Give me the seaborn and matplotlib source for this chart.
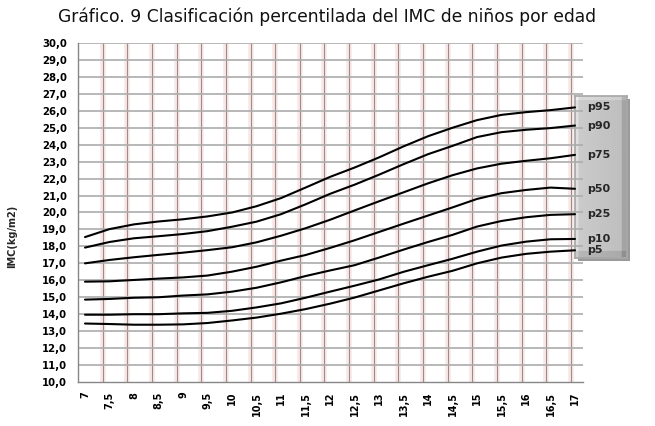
import numpy as np
import pandas as pd
import matplotlib.pyplot as plt
import seaborn as sns
from matplotlib.patches import Rectangle

# Edad (años) y percentiles del IMC (kg/m2)
edad = [7, 7.5, 8, 8.5, 9, 9.5, 10, 10.5, 11, 11.5, 12,
        12.5, 13, 13.5, 14, 14.5, 15, 15.5, 16, 16.5, 17]
p5 = [13.45, 13.42, 13.38, 13.38, 13.40, 13.48, 13.63, 13.80, 14.03, 14.30, 14.62,
      14.98, 15.40, 15.82, 16.21, 16.56, 17.00, 17.34, 17.56, 17.69, 17.77]
p10 = [13.97, 13.97, 14.00, 14.00, 14.05, 14.08, 14.20, 14.40, 14.64, 14.97, 15.33,
       15.68, 16.05, 16.50, 16.89, 17.27, 17.69, 18.05, 18.28, 18.42, 18.44]
p25 = [14.86, 14.90, 14.97, 15.00, 15.10, 15.17, 15.33, 15.56, 15.88, 16.25, 16.58,
       16.89, 17.34, 17.81, 18.26, 18.68, 19.17, 19.50, 19.72, 19.86, 19.90]
p50 = [15.92, 15.94, 16.02, 16.10, 16.17, 16.28, 16.51, 16.80, 17.16, 17.49, 17.91,
       18.36, 18.85, 19.34, 19.82, 20.30, 20.80, 21.14, 21.33, 21.47, 21.40]
p75 = [17.00, 17.20, 17.36, 17.50, 17.63, 17.78, 17.95, 18.24, 18.63, 19.07, 19.57,
       20.12, 20.66, 21.19, 21.72, 22.20, 22.60, 22.88, 23.05, 23.20, 23.40]
p90 = [17.93, 18.26, 18.48, 18.60, 18.73, 18.90, 19.16, 19.46, 19.90, 20.48, 21.10,
       21.64, 22.23, 22.85, 23.44, 23.93, 24.45, 24.74, 24.88, 24.98, 25.13]
p95 = [18.55, 19.02, 19.30, 19.47, 19.60, 19.77, 20.00, 20.37, 20.85, 21.47, 22.10,
       22.65, 23.25, 23.90, 24.50, 25.00, 25.45, 25.76, 25.92, 26.04, 26.20]

series = {"p5": p5, "p10": p10, "p25": p25, "p50": p50,
          "p75": p75, "p90": p90, "p95": p95}

df = pd.DataFrame({"Edad": edad, **series})
df = df.melt(id_vars="Edad", var_name="Percentil", value_name="IMC")

sns.set_theme(style="white")
plt.rcParams['font.family'] = ['DejaVu Sans']

W, H = 655, 426
fig = plt.figure(figsize=(W / 100, H / 100), dpi=100)
fig.patch.set_facecolor("white")
ax = fig.add_axes([78 / W, 1 - 382 / H, 505 / W, 339 / H])

xmin, xmax = 6.857, 17.163
ax.set_xlim(xmin, xmax)
ax.set_ylim(10, 30)

# vertical gridlines (pinkish with glow)
for k in range(1, 21):
    gx = xmin + k * 0.503
    ax.axvline(gx, color="#f7e8e8", lw=4, zorder=0)
    ax.axvline(gx, color="#a38888", lw=0.8, zorder=1)
# horizontal gridlines
for v in range(11, 31):
    ax.axhline(v, color="#acacac", lw=1.2, zorder=1)

sns.lineplot(data=df, x="Edad", y="IMC", hue="Percentil",
             palette=["black"] * len(series), legend=False,
             linewidth=1.5, ax=ax, zorder=3)

ax.set_xticks(edad)
ax.set_xticklabels([f"{e:g}".replace(".", ",") for e in edad],
                   rotation=90, fontsize=7, fontweight="bold")
yt = list(range(10, 31))
ax.set_yticks(yt)
ax.set_yticklabels([f"{v:.1f}".replace(".", ",") for v in yt],
                   fontsize=7.3, fontweight="bold")
ax.tick_params(axis="both", length=0, colors="black")
ax.tick_params(axis="y", pad=8)
ax.tick_params(axis="x", pad=7)
ax.set_xlabel("")
ax.set_ylabel("")

for s in ["top", "right"]:
    ax.spines[s].set_visible(False)
for s in ["left", "bottom"]:
    ax.spines[s].set_color("#868686")
    ax.spines[s].set_linewidth(1)

# legend box (grey bevelled panel)
bx0, bx1, by0, by1 = 575, 627, 96, 258
fig.patches.append(Rectangle((bx0 / W + 3 / W, 1 - (by1 + 3) / H), (bx1 - bx0) / W, (by1 - by0) / H,
                             transform=fig.transFigure, facecolor="#9a9a9a",
                             edgecolor="none", zorder=4))
bax = fig.add_axes([bx0 / W, 1 - by1 / H, (bx1 - bx0) / W, (by1 - by0) / H])
gx_, gy_ = np.meshgrid(np.linspace(0, 1, 60), np.linspace(0, 1, 160))
shade = 0.80 - 0.06 * gx_ + 0.08 * (gx_ < 0.06) - 0.10 * (gx_ > 0.90) \
    - 0.08 * (gy_ > 0.96) + 0.06 * (gy_ < 0.03)
bax.imshow(shade, cmap="gray", vmin=0, vmax=1, aspect="auto", interpolation="bilinear")
bax.set_xticks([])
bax.set_yticks([])
for s in bax.spines.values():
    s.set_color("#a8a8a8")
bax.set_zorder(5)
ax.set_zorder(6)
ax.patch.set_alpha(0)

for name, vals in series.items():
    ax.text(17.245, vals[-1], name, fontsize=8, fontweight="bold",
            ha="left", va="center", clip_on=False, zorder=7)

fig.text(0.5, 1 - 17 / H,
         "Gráfico. 9 Clasificación percentilada del IMC de niños por edad",
         ha="center", va="center", fontsize=12.3, color="#111111")
fig.text(12 / W, 1 - 236 / H, "IMC(kg/m2)", rotation=90, ha="center", va="center",
         fontsize=7, fontweight="bold")

fig.savefig("out.png", dpi=100, facecolor="white")
